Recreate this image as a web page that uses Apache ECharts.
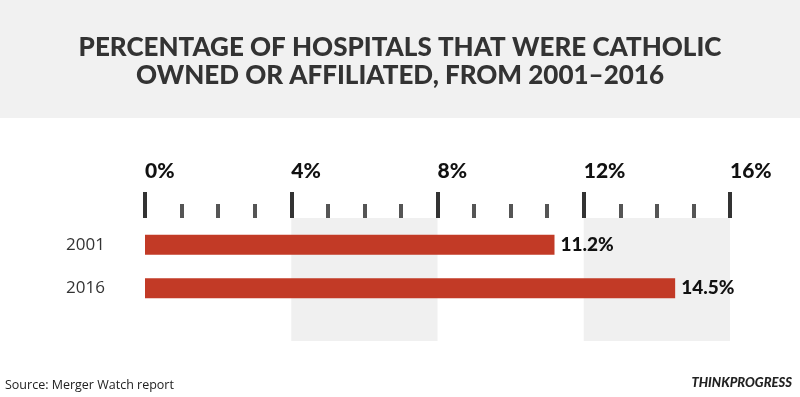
<!DOCTYPE html>
<html><head><meta charset="utf-8">
<script src="https://cdn.jsdelivr.net/npm/echarts@6/dist/echarts.min.js"></script>
<style>html,body{margin:0;padding:0;background:#fff}#c{width:800px;height:397px}</style>
</head><body><div id="c"></div>
<script>
const titleText = 'PERCENTAGE OF HOSPITALS THAT WERE CATHOLIC\nOWNED OR AFFILIATED, FROM 2001\u20132016';
const categories = ['2001', '2016'];
const values = [11.2, 14.5];
const axisMin = 0, axisMax = 16, axisStep = 4;
const sourceText = 'Source: Merger Watch report';
const brandText = 'THINKPROGRESS';

const chart = echarts.init(document.getElementById('c'), null, {renderer: 'canvas'});
chart.setOption({
  backgroundColor: '#ffffff',
  animation: false,
  graphic: [
    {type: 'rect', left: 0, top: 0, shape: {width: 800, height: 118}, style: {fill: '#f1f1f1'}, z: -10},
    {type: 'text', left: 5, top: 379, style: {text: sourceText, font: '12.5px "Open Sans"', fill: '#222'}},
    {type: 'text', right: 8, top: 376, style: {text: brandText, font: 'italic 900 13px "Lato"', fill: '#222'}}
  ],
  title: {
    text: titleText, left: 'center', top: 29,
    textStyle: {fontFamily: 'Lato', fontWeight: 900, fontSize: 26, lineHeight: 28, color: '#333'}
  },
  grid: [
    {left: 145, right: 70, top: 218, height: 123},
    {left: 145, right: 70, top: 223, height: 87}
  ],
  xAxis: [
    {gridIndex: 0, type: 'value', position: 'top', min: axisMin, max: axisMax, interval: axisStep,
     axisLine: {show: false},
     axisTick: {show: true, length: 26, lineStyle: {width: 4, color: '#333'}},
     minorTick: {show: true, splitNumber: 4, length: 14, lineStyle: {width: 4, color: '#555'}},
     splitLine: {show: false},
     splitArea: {show: true, areaStyle: {color: ['rgba(0,0,0,0)', '#f0f0f0']}},
     axisLabel: {show: true, margin: 36, align: 'left', formatter: '{value}%',
       fontFamily: 'Lato', fontWeight: 900, fontSize: 21, color: '#111'}},
    {gridIndex: 1, type: 'value', min: axisMin, max: axisMax, show: false}
  ],
  yAxis: [
    {gridIndex: 0, type: 'category', data: ['a'], show: false},
    {gridIndex: 1, type: 'category', data: categories, inverse: true,
     axisLine: {show: false}, axisTick: {show: false}, splitLine: {show: false},
     axisLabel: {margin: 40, fontFamily: 'Open Sans', fontSize: 17, color: '#333'}}
  ],
  series: [{
    type: 'bar', xAxisIndex: 1, yAxisIndex: 1, data: values, barWidth: 20,
    itemStyle: {color: '#c23a26'},
    label: {show: true, position: 'right', distance: 6, formatter: '{c}%',
      fontFamily: 'Lato', fontWeight: 900, fontSize: 19, color: '#111'}
  }]
});
</script></body></html>
